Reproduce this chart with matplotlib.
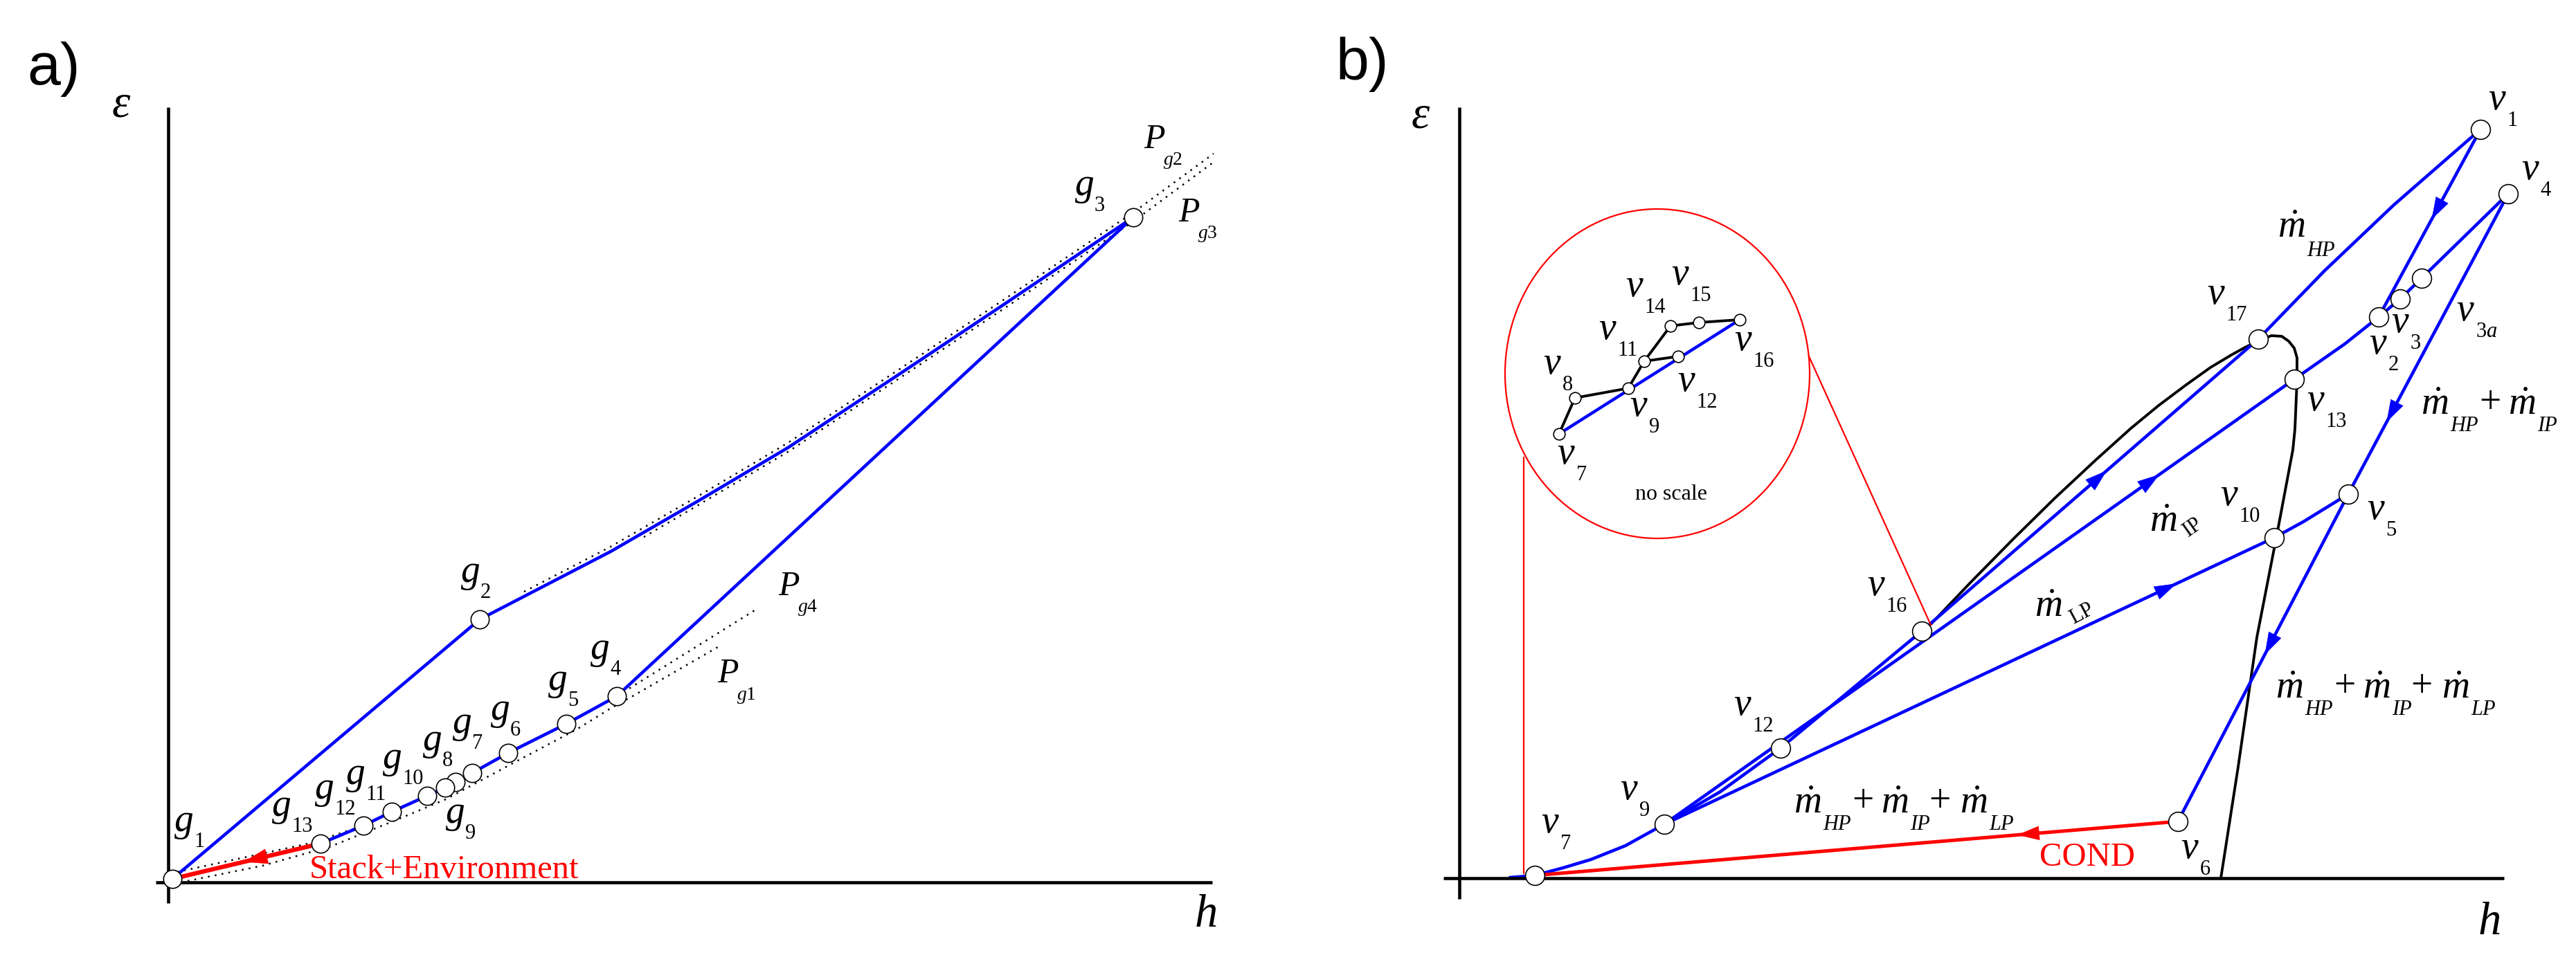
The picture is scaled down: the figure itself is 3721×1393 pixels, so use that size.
import numpy as np
import matplotlib
matplotlib.use('Agg')
import matplotlib.pyplot as plt
from matplotlib.patches import Ellipse

plt.rcParams['font.family'] = ['Liberation Serif', 'DejaVu Serif']
plt.rcParams['mathtext.fontset'] = 'custom'
plt.rcParams['mathtext.rm'] = 'Liberation Serif'
plt.rcParams['mathtext.it'] = 'Liberation Serif:italic'
plt.rcParams['mathtext.bf'] = 'Liberation Serif:bold'

BLUE = '#0000ff'
RED = '#ff0000'
BLACK = '#000000'

# ======================= panel a data (gas side) =======================
g_names = ['1', '2', '3', '4', '5', '6', '7', '8', '9', '10', '11', '12', '13']
g_h = [0.6, 45.0, 139.4, 64.8, 57.5, 49.1, 43.9, 41.5, 40.0, 37.4, 32.3, 28.2, 22.0]
g_eps = [0.5, 38.0, 96.1, 26.9, 22.9, 18.7, 15.8, 14.5, 13.7, 12.5, 10.2, 8.2, 5.6]
g_label_h = [2.3, 43.7, 132.4, 62.4, 56.3, 48.0, 42.5, 38.2, 41.5, 32.4, 27.1, 22.6, 16.4]
g_label_eps = [8.1, 44.1, 100.0, 33.0, 28.5, 24.2, 22.3, 19.8, 9.3, 17.2, 14.9, 12.8, 10.3]

# compressor + combustion path g1 -> g2 -> g3
comb_h = [0.6, 45.0, 63.9, 76.7, 89.5, 105.7, 120.7, 139.4]
comb_eps = [0.5, 38.0, 47.8, 55.2, 62.8, 73.5, 83.5, 96.1]

# isobars
pg2_h = [51.4, 63.9, 76.7, 89.5, 105.7, 120.7, 139.4, 151.0]
pg2_eps = [42.0, 48.5, 55.9, 63.5, 74.2, 84.2, 96.8, 105.3]
pg3_h = [68.7, 76.7, 89.5, 105.7, 120.7, 139.4, 151.3]
pg3_eps = [49.9, 54.6, 62.2, 72.9, 82.9, 95.5, 104.3]
pg4_h = [1.3, 20.7, 28.2, 32.3, 37.4, 40.0, 41.5, 43.9, 49.1, 57.5, 64.8, 84.7]
pg4_eps = [1.5, 5.7, 8.2, 10.2, 12.5, 13.7, 14.5, 15.8, 18.7, 22.9, 26.9, 39.3]
pg1_h = [2.8, 13.6, 23.5, 32.9, 40.1, 50.5, 59.0, 64.0, 66.9, 79.4]
pg1_eps = [0.2, 2.4, 5.2, 9.0, 12.0, 17.6, 22.1, 25.2, 26.8, 34.0]
p_names = ['g2', 'g3', 'g4', 'g1']
p_label_h = [142.5, 147.5, 89.7, 80.9]
p_label_eps = [107.8, 97.2, 43.2, 30.5]

# ======================= panel b data (steam side) =======================
v_names = ['1', '2', '3', '3a', '4', '5', '6', '7', '9', '10', '12', '13', '16', '17']
v_h = [147.5, 132.8, 135.9, 139.0, 151.5, 128.4, 103.8, 10.9, 29.6, 117.7, 46.4, 120.6, 66.8, 115.4]
v_eps = [108.2, 81.1, 83.7, 86.7, 98.9, 55.5, 8.2, 0.4, 7.8, 49.2, 18.8, 72.1, 35.7, 77.9]
v_label_h = [149.9, 132.7, 135.9, 145.3, 154.7, 132.4, 105.5, 13.1, 24.5, 111.2, 40.9, 123.7, 60.2, 109.3]
v_label_eps = [112.4, 77.1, 80.2, 81.9, 102.3, 53.2, 4.2, 7.9, 12.7, 55.2, 24.9, 68.9, 42.2, 84.3]

hp_h = [7.3, 10.9, 15.0, 19.0, 24.0, 29.6, 37.7, 46.4, 66.8, 115.4, 125.0, 135.0, 147.5]
hp_eps = [0.1, 0.4, 1.5, 2.7, 4.7, 7.8, 12.5, 18.8, 35.7, 77.9, 87.8, 97.3, 108.2]
ip_h = [29.6, 120.6, 127.9, 132.8, 135.9, 139.0, 151.5]
ip_eps = [7.8, 72.1, 77.2, 81.1, 83.7, 86.7, 98.9]
lp_h = [29.6, 117.7, 121.9, 128.4]
lp_eps = [7.8, 49.2, 51.5, 55.5]
hpt_h = [147.5, 132.8]
hpt_eps = [108.2, 81.1]
ipt_h = [151.5, 128.4]
ipt_eps = [98.9, 55.5]
lpt_h = [128.4, 103.8]
lpt_eps = [55.5, 8.2]
cond_h = [103.8, 10.9]
cond_eps = [8.2, 0.4]

dome_h = [68.0, 74.0, 80.0, 86.0, 92.0, 97.0, 101.0, 105.0, 108.5, 111.5, 113.5,
          115.5, 117.3, 118.8, 119.8, 120.6, 121.0, 121.0, 120.7, 120.4, 118.2, 115.2, 112.5, 110.0]
dome_eps = [36.6, 42.9, 49.0, 54.9, 60.5, 65.0, 68.3, 71.3, 73.8, 75.6, 76.7,
            77.7, 78.4, 78.3, 77.6, 76.6, 75.2, 71.9, 64.9, 61.9, 50.2, 34.8, 16.1, 0.0]

# inset (no scale)
in_names = ['7', '8', '9', '11', '12', '14', '15', '16']
in_h = [14.4, 16.7, 24.4, 26.7, 31.6, 30.5, 34.6, 40.5]
in_eps = [64.2, 69.4, 70.8, 74.7, 75.4, 79.8, 80.3, 80.7]
in_label_h = [15.4, 13.4, 25.9, 21.4, 32.8, 25.3, 31.9, 41.0]
in_label_eps = [61.2, 74.2, 68.1, 79.2, 71.7, 85.4, 87.1, 77.6]

BASE = 40
SUB = 22


# ======================= helpers =======================
def put(ax, x, y, s, size, frac, dx=0.0, dy=0.0, ha='center', style='normal',
        rotation=0, color=BLACK):
    ax.annotate(s, xy=(x, y), xytext=(dx, dy - frac * size), textcoords='offset points',
                ha=ha, va='baseline', fontsize=size, style=style, rotation=rotation,
                rotation_mode='anchor', color=color, zorder=20)


def sublabel(ax, x, y, base, sub, frac, sdx, sdy, size=BASE, subsize=SUB):
    put(ax, x, y, base, size, frac, style='italic')
    put(ax, x, y, sub, subsize, 0.33, dx=sdx, dy=-sdy, ha='left')


def arrow_on(ax, hs, es, t, color, ms=22):
    p0 = np.array([hs[0], es[0]])
    p1 = np.array([hs[1], es[1]])
    tip = p0 + t * (p1 - p0)
    tail = tip - 0.03 * (p1 - p0)
    ax.annotate('', xy=tip, xytext=tail,
                arrowprops=dict(arrowstyle='-|>,head_length=1.0,head_width=0.32',
                                color=color, lw=0.5, shrinkA=0, shrinkB=0,
                                mutation_scale=ms), zorder=6)


def mdot_sum(ax, x, y, subs, size=BASE, subsize=SUB):
    m_off = [0.0, 90.7, 172.8]
    plus_off = [57.6, 137.5]
    for i, s in enumerate(subs):
        put(ax, x, y, r'$\dot{m}$', size, 0.23, dx=m_off[i])
        put(ax, x, y, s, subsize, 0.33, dx=m_off[i] + 16, dy=-19.4, ha='left', style='italic')
        if i < len(subs) - 1:
            put(ax, x, y, '+', size, 0.25, dx=plus_off[i], dy=2)


def setup(ax, xlim, ylim, xb, yb):
    ax.set_xlim(*xlim)
    ax.set_ylim(*ylim)
    ax.set_xticks([])
    ax.set_yticks([])
    for s in ['top', 'right']:
        ax.spines[s].set_visible(False)
    for s in ['left', 'bottom']:
        ax.spines[s].set_position(('data', 0))
        ax.spines[s].set_linewidth(3.3)
        ax.spines[s].set_capstyle('butt')
        ax.spines[s].set_zorder(4)
    ax.spines['left'].set_bounds(*yb)
    ax.spines['bottom'].set_bounds(*xb)
    ax.patch.set_visible(False)


fig = plt.figure(figsize=(37.21, 13.93), dpi=100)
axA = fig.add_axes([0, 0, 1860 / 3721, 1])
axB = fig.add_axes([1860 / 3721, 0, 1861 / 3721, 1])
setup(axA, (-24.3, 161.7), (-11.8, 127.5), (-1.8, 150.8), (-3.0, 112.0))
setup(axB, (-24.8, 161.3), (-12.4, 126.9), (-2.3, 150.9), (-3.0, 111.4))

DOT = dict(color=BLACK, lw=1.8, ls=(0, (1, 3)), zorder=2)
BL = dict(color=BLUE, lw=3.3, zorder=3, solid_capstyle='round', solid_joinstyle='round')
MK = dict(ls='none', marker='o', mfc='white', mec=BLACK, mew=1.2, zorder=10)

# ---------------- panel a ----------------
ax = axA
ax.plot(pg2_h, pg2_eps, **DOT)
ax.plot(pg3_h, pg3_eps, **DOT)
ax.plot(pg4_h, pg4_eps, **DOT)
ax.plot(pg1_h, pg1_eps, **DOT)
ax.plot(comb_h, comb_eps, **BL)
lower_idx = [2, 3, 4, 5, 6, 7, 8, 9, 10, 11, 12]
ax.plot([g_h[i] for i in lower_idx], [g_eps[i] for i in lower_idx], **BL)
stack_h = [g_h[12], g_h[0]]
stack_eps = [g_eps[12], g_eps[0]]
ax.plot(stack_h, stack_eps, color=RED, lw=4.5, zorder=4)
arrow_on(ax, stack_h, stack_eps, 0.52, RED, ms=24)
ax.plot(g_h, g_eps, ms=19, **MK)
for n, lh, le in zip(g_names, g_label_h, g_label_eps):
    sublabel(ax, lh, le, 'g', n, 0.12, 10, 14.5)
for n, lh, le in zip(p_names, p_label_h, p_label_eps):
    put(ax, lh, le, 'P', 36, 0.33, style='italic')
    put(ax, lh, le, '$' + n[0] + '$' + n[1:], 20, 0.28, dx=9, dy=-24, ha='left')
ax.text(20.4, 0.6, 'Stack+Environment', color=RED, fontsize=35, ha='left', va='baseline', zorder=20)
ax.text(-16.5, 117.5, 'a)', fontsize=62, family='Liberation Sans', ha='center', va='center')
put(ax, -6.8, 112.2, 'ε', 48, 0.23, style='italic')
put(ax, 149.9, -4.1, 'h', 48, 0.34, style='italic')

# ---------------- panel b ----------------
ax = axB
ax.plot(dome_h, dome_eps, color=BLACK, lw=2.8, zorder=2, solid_joinstyle='round')
for hs, es in [(hp_h, hp_eps), (ip_h, ip_eps), (lp_h, lp_eps), (hpt_h, hpt_eps),
               (ipt_h, ipt_eps), (lpt_h, lpt_eps)]:
    ax.plot(hs, es, **BL)
ax.plot(cond_h, cond_eps, color=RED, lw=3.6, zorder=4)

arrow_on(ax, [hp_h[8], hp_h[9]], [hp_eps[8], hp_eps[9]], 0.55, BLUE)
arrow_on(ax, [ip_h[0], ip_h[1]], [ip_eps[0], ip_eps[1]], 0.786, BLUE)
arrow_on(ax, [lp_h[0], lp_h[1]], [lp_eps[0], lp_eps[1]], 0.84, BLUE)
arrow_on(ax, hpt_h, hpt_eps, 0.48, BLUE)
arrow_on(ax, ipt_h, ipt_eps, 0.76, BLUE)
arrow_on(ax, lpt_h, lpt_eps, 0.49, BLUE)
arrow_on(ax, cond_h, cond_eps, 0.25, RED)

ax.plot(v_h, v_eps, ms=20, **MK)
for n, lh, le in zip(v_names, v_label_h, v_label_eps):
    sub = n if n != '3a' else r'3$a$'
    sublabel(ax, lh, le, 'v', sub, 0.23, 10.5, 19.5)

# inset
ax.add_patch(Ellipse((28.6, 72.9), 44.0, 47.6, fill=False, ec=RED, lw=1.6, zorder=5))
ax.plot([9.3, 9.3], [60.8, 0.7], color=RED, lw=1.6, zorder=5)
ax.plot([50.5, 68.1], [75.4, 36.6], color=RED, lw=1.6, zorder=5)
ii = {n: k for k, n in enumerate(in_names)}
for a, b in [('7', '8'), ('8', '9'), ('9', '11'), ('11', '12'), ('11', '14'), ('14', '15'), ('15', '16')]:
    ax.plot([in_h[ii[a]], in_h[ii[b]]], [in_eps[ii[a]], in_eps[ii[b]]], color=BLACK, lw=2.8, zorder=6)
ax.plot([in_h[ii['7']], in_h[ii['16']]], [in_eps[ii['7']], in_eps[ii['16']]], color=BLUE, lw=3.2, zorder=6)
ax.plot(in_h, in_eps, ms=12, **MK)
for n, lh, le in zip(in_names, in_label_h, in_label_eps):
    sublabel(ax, lh, le, 'v', n, 0.23, 10.5, 19.5)
ax.text(30.6, 55.5, 'no scale', fontsize=23, ha='center', va='center', zorder=20)

# mass flow labels
put(ax, 120.2, 93.9, r'$\dot{m}$', BASE, 0.23)
put(ax, 120.2, 93.9, 'HP', SUB, 0.33, dx=16, dy=-21.5, ha='left', style='italic')
put(ax, 101.7, 51.4, r'$\dot{m}$', BASE, 0.23)
put(ax, 101.7, 51.4, 'IP', SUB, 0.33, dx=26, dy=-8, ha='left', rotation=35)
put(ax, 85.1, 39.1, r'$\dot{m}$', BASE, 0.23)
put(ax, 85.1, 39.1, 'LP', SUB, 0.33, dx=26, dy=-10, ha='left', rotation=28)
mdot_sum(ax, 140.9, 68.3, ['HP', 'IP'])
mdot_sum(ax, 119.9, 27.3, ['HP', 'IP', 'LP'])
mdot_sum(ax, 50.3, 10.7, ['HP', 'IP', 'LP'])

ax.text(83.8, 1.8, 'COND', color=RED, fontsize=35, ha='left', va='baseline', zorder=20)
ax.text(-14.0, 117.6, 'b)', fontsize=62, family='Liberation Sans', ha='center', va='center')
put(ax, -5.6, 110.0, 'ε', 48, 0.23, style='italic')
put(ax, 148.8, -5.8, 'h', 48, 0.34, style='italic')

fig.savefig('out.png', dpi=100)
